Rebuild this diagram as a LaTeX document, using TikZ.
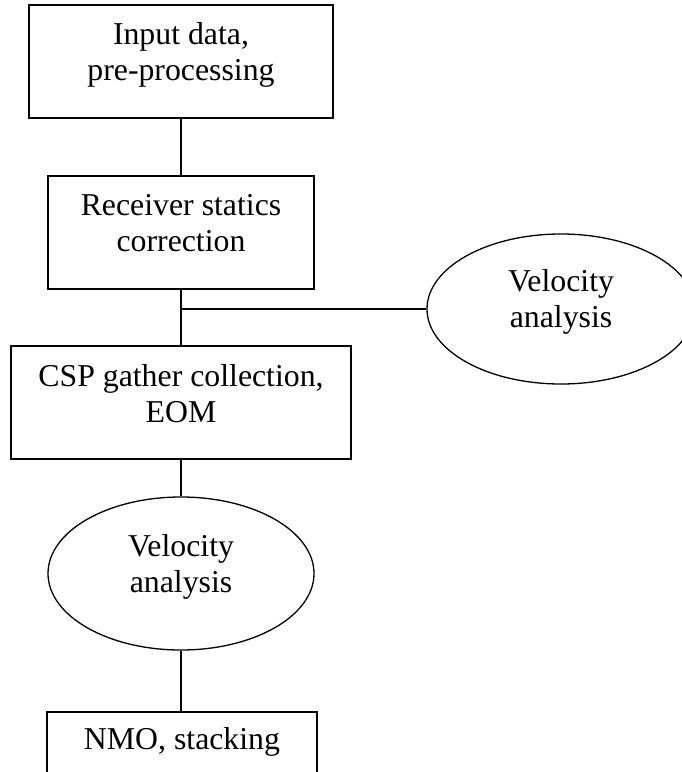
\documentclass[tikz,border=0pt]{standalone}
\usepackage{fontspec}
\setmainfont{Liberation Serif}
\usetikzlibrary{shapes.geometric}
\begin{document}
\begin{tikzpicture}[x=1pt,y=-1pt,
  boxshape/.style={draw, line width=1.5pt, rectangle, inner sep=0pt},
  oval/.style={draw, line width=1.3pt, ellipse, inner sep=0pt},
  lbl/.style={anchor=base, align=center, inner sep=0pt, font=\fontsize{31.8}{35.5}\selectfont},
  conn/.style={line width=1.2pt}]
\useasboundingbox (0,0) rectangle (682,772);
\clip (0,0) rectangle (682,772);
% boxes
\node[boxshape, minimum width=304pt, minimum height=113pt] (b1) at (181,61.5) {};
\node[boxshape, minimum width=266pt, minimum height=113pt] (b2) at (181,232.5) {};
\node[boxshape, minimum width=340pt, minimum height=113pt] (b3) at (181,402.5) {};
\node[boxshape, minimum width=270pt, minimum height=120pt] (b4) at (182,772) {};
% ellipses
\node[oval, minimum width=268pt, minimum height=150pt] (v1) at (561,309) {};
\node[oval, minimum width=266pt, minimum height=153pt] (v2) at (181,573.5) {};
% texts (anchor = baseline of last line)
\node[lbl] (t1) at (181,80) {Input data,\\pre-processing};
\node[lbl] (t2) at (181,251) {Receiver statics\\correction};
\node[lbl] (t3) at (181,422) {CSP gather collection,\\EOM};
\node[lbl] (t4) at (182,749) {NMO, stacking};
\node[lbl] (t5) at (561,327) {Velocity\\analysis};
\node[lbl] (t6) at (181,592) {Velocity\\analysis};
% connectors
\coordinate (j) at (181,309);
\draw[conn] (b1.south) -- (b2.north);
\draw[conn] (b2.south) -- (b3.north);
\draw[conn] (j) -- (v1.west);
\draw[conn] (b3.south) -- (v2.north);
\draw[conn] (v2.south) -- (v2.south |- b4.north);
\end{tikzpicture}
\end{document}
